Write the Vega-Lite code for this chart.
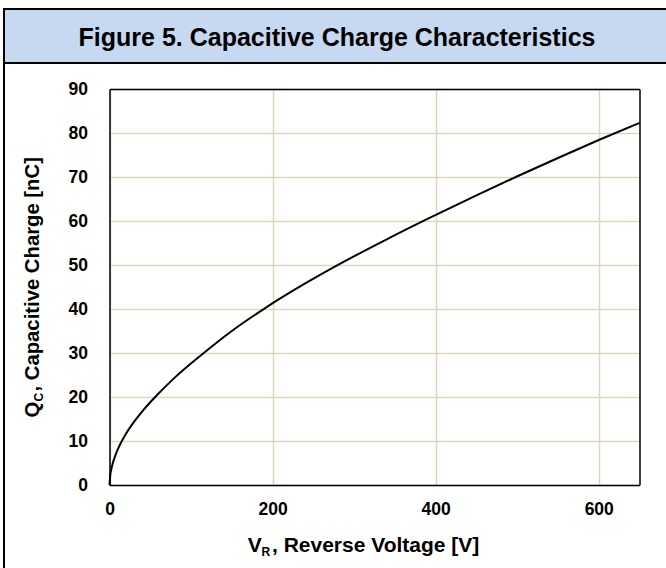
{
  "$schema": "https://vega.github.io/schema/vega-lite/v6.json",
  "background": "white",
  "padding": {"left": 3, "top": 8, "right": -39, "bottom": -36},
  "bounds": "flush",
  "spacing": 0,
  "config": {"font": "Liberation Sans"},
  "datasets": {
    "curve": [
      {"V": 0, "Q": 0},
      {"V": 1, "Q": 2.37},
      {"V": 2, "Q": 3.42},
      {"V": 4, "Q": 4.94},
      {"V": 7, "Q": 6.64},
      {"V": 10, "Q": 8.02},
      {"V": 14, "Q": 9.59},
      {"V": 20, "Q": 11.6},
      {"V": 28, "Q": 13.84},
      {"V": 40, "Q": 16.7},
      {"V": 56, "Q": 20},
      {"V": 80, "Q": 24.4},
      {"V": 113, "Q": 29.6},
      {"V": 150, "Q": 35},
      {"V": 190, "Q": 40.1},
      {"V": 240, "Q": 45.8},
      {"V": 287, "Q": 50.7},
      {"V": 340, "Q": 55.84},
      {"V": 390, "Q": 60.47},
      {"V": 450, "Q": 65.84},
      {"V": 503, "Q": 70.4},
      {"V": 550, "Q": 74.32},
      {"V": 600, "Q": 78.4},
      {"V": 650, "Q": 82.3}
    ]
  },
  "vconcat": [
    {
      "width": 700,
      "height": 54,
      "view": {"fill": "#c6d9f0", "stroke": "black", "strokeWidth": 2},
      "data": {"values": [{"label": "Figure 5. Capacitive Charge Characteristics"}]},
      "mark": {"type": "text", "font": "Liberation Sans", "fontSize": 25, "fontWeight": "bold", "color": "black", "align": "center", "baseline": "middle", "dy": 1.5, "dx": -17},
      "encoding": {"text": {"field": "label", "type": "nominal"}}
    },
    {
      "width": 700,
      "height": 540,
      "view": {"fill": "white", "stroke": "black", "strokeWidth": 2},
      "data": {"name": "curve"},
      "resolve": {"axis": {"x": "independent", "y": "independent"}},
      "layer": [
        {
          "mark": {"type": "line", "color": "black", "strokeWidth": 2, "interpolate": "monotone"},
          "encoding": {
            "x": {"field": "V", "type": "quantitative",
              "scale": {"domain": [0, 650], "range": [105.5, 635.5], "nice": false, "zero": false},
              "axis": {"orient": "bottom", "offset": -118, "values": [0, 200, 400, 600],
                "grid": false,
                "ticks": false, "tickSize": 0, "labelPadding": 15,
                "labelFont": "Liberation Sans", "labelFontSize": 17.5, "labelFontWeight": "bold", "labelColor": "black",
                "labelFlush": false, "labelOverlap": false,
                "domain": true, "domainColor": "black", "domainWidth": 1.5,
                "title": ", Reverse Voltage [V]", "titleFont": "Liberation Sans", "titleFontSize": 21, "titleFontWeight": "bold", "titleColor": "black",
                "titleX": 267.5, "titleY": 66.5, "titleAlign": "left", "titleBaseline": "alphabetic", "titleAngle": 0}},
            "y": {"field": "Q", "type": "quantitative",
              "scale": {"domain": [0, 90], "range": [422, 26], "nice": false, "zero": false},
              "axis": {"orient": "left", "offset": -105.5, "values": [0, 10, 20, 30, 40, 50, 60, 70, 80, 90],
                "grid": true, "gridColor": "#ddd5bd", "gridWidth": 1.5,
                "ticks": false, "tickSize": 0, "labelPadding": 22,
                "labelFont": "Liberation Sans", "labelFontSize": 17.5, "labelFontWeight": "bold", "labelColor": "black",
                "labelFlush": false, "labelOverlap": false,
                "domain": true, "domainColor": "black", "domainWidth": 1.5,
                "title": ", Capacitive Charge [nC]", "titleFont": "Liberation Sans", "titleFontSize": 20.3, "titleFontWeight": "bold", "titleColor": "black",
                "titleX": -71, "titleY": 328, "titleAlign": "left", "titleBaseline": "alphabetic", "titleAngle": 270}}
          }
        },
        {
          "mark": {"type": "line", "opacity": 0},
          "encoding": {
            "x": {"field": "V", "type": "quantitative",
              "scale": {"domain": [0, 650], "range": [105.5, 635.5], "nice": false, "zero": false},
              "axis": {"orient": "top", "offset": -26, "values": [0, 200, 400, 600],
                "grid": true, "gridColor": "#ddd5bd", "gridWidth": 1.5,
                "labels": false, "ticks": false, "tickSize": 0,
                "domain": true, "domainColor": "black", "domainWidth": 1.5,
                "title": "R", "titleFont": "Liberation Sans", "titleFontSize": 12, "titleFontWeight": "bold", "titleColor": "black",
                "titleX": 257, "titleY": 466.5, "titleAlign": "left", "titleBaseline": "alphabetic", "titleAngle": 0}},
            "y": {"field": "Q", "type": "quantitative",
              "scale": {"domain": [0, 90], "range": [422, 26], "nice": false, "zero": false},
              "axis": {"orient": "right", "offset": -64.5, "grid": false, "labels": false, "ticks": false, "tickSize": 0,
                "domain": true, "domainColor": "black", "domainWidth": 1.5,
                "title": "C", "titleFont": "Liberation Sans", "titleFontSize": 12, "titleFontWeight": "bold", "titleColor": "black",
                "titleX": -597, "titleY": 338, "titleAlign": "left", "titleBaseline": "alphabetic", "titleAngle": 270}}
          }
        },
        {
          "mark": {"type": "line", "opacity": 0},
          "encoding": {
            "x": {"field": "V", "type": "quantitative",
              "scale": {"domain": [0, 650], "range": [105.5, 635.5], "nice": false, "zero": false},
              "axis": {"orient": "bottom", "offset": -118, "grid": false, "labels": false, "ticks": false, "tickSize": 0, "domain": false,
                "title": "V", "titleFont": "Liberation Sans", "titleFontSize": 21, "titleFontWeight": "bold", "titleColor": "black",
                "titleX": 243.3, "titleY": 66.5, "titleAlign": "left", "titleBaseline": "alphabetic", "titleAngle": 0}},
            "y": {"field": "Q", "type": "quantitative",
              "scale": {"domain": [0, 90], "range": [422, 26], "nice": false, "zero": false},
              "axis": {"orient": "left", "offset": -105.5, "grid": false, "labels": false, "ticks": false, "tickSize": 0, "domain": false,
                "title": "Q", "titleFont": "Liberation Sans", "titleFontSize": 20.3, "titleFontWeight": "bold", "titleColor": "black",
                "titleX": -71, "titleY": 354, "titleAlign": "left", "titleBaseline": "alphabetic", "titleAngle": 270}}
          }
        }
      ]
    }
  ]
}
